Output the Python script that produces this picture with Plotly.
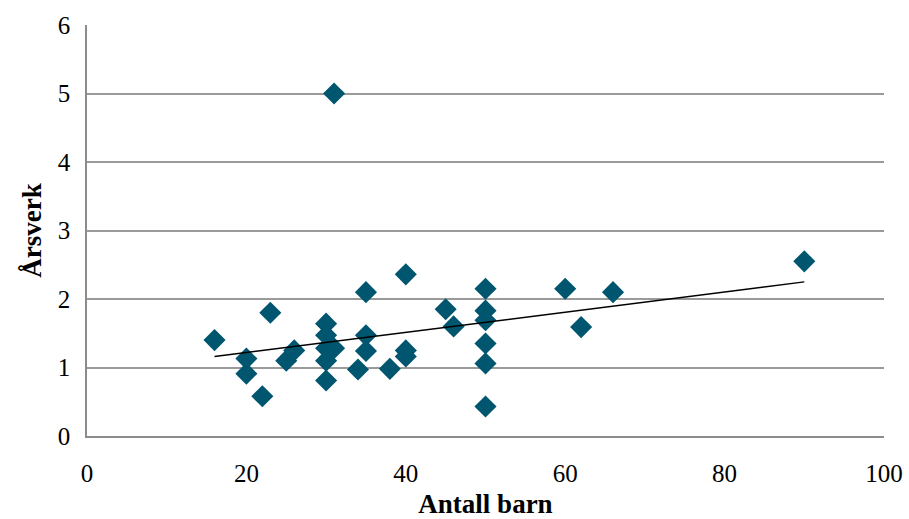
import plotly.graph_objects as go

# Antall barn (children) and Årsverk (full-time equivalents) per unit
antall_barn = [16, 20, 20, 23, 22, 25, 26, 30, 30, 30, 30, 30, 31, 31,
               34, 35, 35, 35, 38, 40, 40, 40, 45, 46,
               50, 50, 50, 50, 50, 50, 60, 62, 66, 90]
arsverk = [1.40, 1.13, 0.91, 1.80, 0.58, 1.10, 1.25, 1.64, 1.47, 1.28, 1.10, 0.81, 5.0, 1.28,
           0.97, 2.10, 1.47, 1.24, 0.98, 2.36, 1.25, 1.16, 1.85, 1.60,
           2.15, 1.83, 1.69, 1.35, 1.06, 0.43, 2.15, 1.59, 2.10, 2.55]

# Linear trendline endpoints (first and last Antall barn)
trend_x = [16, 90]
trend_y = [1.16, 2.25]

x_ticks = [0, 20, 40, 60, 80, 100]
y_ticks = [0, 1, 2, 3, 4, 5, 6]

fig = go.Figure()
fig.add_trace(go.Scatter(
    x=antall_barn, y=arsverk, mode="markers",
    marker=dict(symbol="diamond", size=17, color="#00566e", line=dict(width=0)),
    showlegend=False,
))
fig.add_trace(go.Scatter(
    x=trend_x, y=trend_y, mode="lines",
    line=dict(color="black", width=1.5),
    showlegend=False,
))

font_family = "Liberation Serif, DejaVu Serif, serif"
fig.update_layout(
    width=909, height=519,
    margin=dict(l=87, r=25, t=25, b=83),
    paper_bgcolor="white", plot_bgcolor="white",
    font=dict(family=font_family, size=25, color="black"),
    xaxis=dict(
        range=[0, 100], tickvals=x_ticks, showgrid=False, zeroline=False,
        showline=True, linecolor="#8c8c8c", linewidth=1.5,
        ticks="", ticklabelstandoff=14, automargin=False,
        tickfont=dict(size=25),
        title=dict(text="<b>Antall barn</b>", font=dict(size=27), standoff=10),
    ),
    yaxis=dict(
        range=[0, 6], tickvals=y_ticks, showgrid=True, gridcolor="#9a9a9a",
        gridwidth=1.5, zeroline=False,
        showline=True, linecolor="#8c8c8c", linewidth=1.5,
        ticks="", ticklabelstandoff=10, automargin=False,
        tickfont=dict(size=25),
        title=dict(text="<b>Årsverk</b>", font=dict(size=27), standoff=8),
    ),
)

fig.write_html("out.html")
